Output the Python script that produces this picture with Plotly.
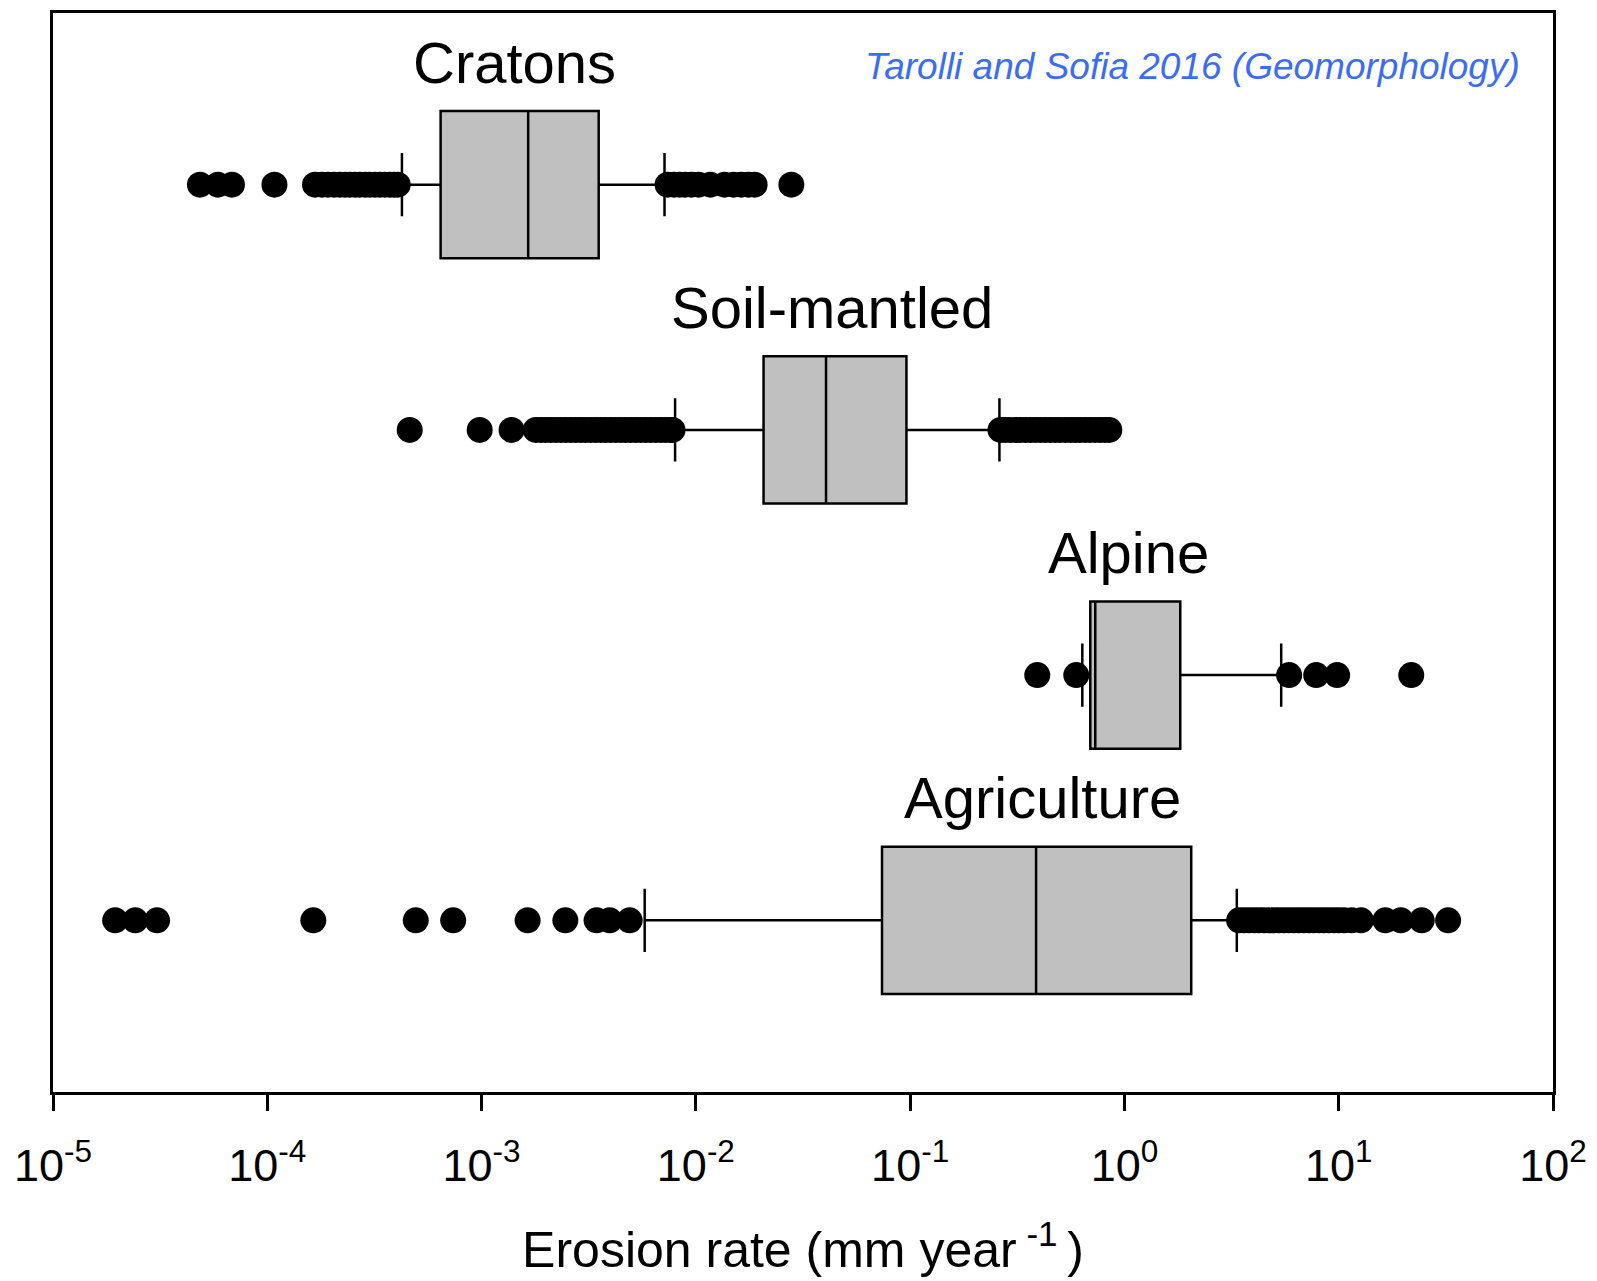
import numpy as np
import plotly.graph_objects as go

# Erosion-rate summary statistics per landscape type (mm / year)
categories = ["Cratons", "Soil-mantled", "Alpine", "Agriculture"]
row_pos = [3, 2, 1, 0]

q1 = [6.44e-4, 2.07e-2, 0.693, 0.0739]
median = [1.65e-3, 4.05e-2, 0.731, 0.387]
q3 = [3.52e-3, 9.61e-2, 1.822, 2.05]
lower_whisker = [4.25e-4, 8.0e-3, 0.636, 5.77e-3]
upper_whisker = [7.14e-3, 0.261, 5.39, 3.345]

# Points beyond the whiskers
outliers_cratons = [4.85e-5, 5.88e-5, 6.84e-5, 1.08e-4,
                    1.67e-4, 1.80e-4, 1.92e-4, 2.05e-4, 2.18e-4, 2.31e-4, 2.43e-4,
                    2.57e-4, 2.70e-4, 2.86e-4, 3.01e-4, 3.18e-4, 3.35e-4, 3.54e-4,
                    3.73e-4, 3.90e-4, 4.06e-4,
                    7.38e-3, 7.9e-3, 8.4e-3, 8.9e-3, 9.55e-3, 1.03e-2, 1.17e-2,
                    1.36e-2, 1.50e-2, 1.63e-2, 1.76e-2, 1.88e-2, 2.79e-2]
outliers_soil = [4.62e-4, 9.8e-4, 1.38e-3,
                 1.79e-3, 1.89e-3, 1.99e-3, 2.10e-3, 2.22e-3, 2.34e-3, 2.47e-3, 2.61e-3,
                 2.75e-3, 2.90e-3, 3.06e-3, 3.23e-3, 3.41e-3, 3.60e-3, 3.79e-3, 4.00e-3,
                 4.22e-3, 4.46e-3, 4.70e-3, 4.96e-3, 5.24e-3, 5.52e-3, 5.83e-3, 6.15e-3,
                 6.49e-3, 6.85e-3, 7.22e-3, 7.60e-3, 7.78e-3,
                 0.264, 0.278, 0.293, 0.31, 0.327, 0.345, 0.364, 0.384, 0.405, 0.427,
                 0.45, 0.475, 0.50, 0.53, 0.56, 0.59, 0.62, 0.655, 0.69, 0.73, 0.77,
                 0.81, 0.85]
outliers_alpine = [0.392, 0.596, 5.87, 7.85, 9.83, 21.8]
outliers_agriculture = [1.95e-5, 2.42e-5, 3.06e-5, 1.64e-4, 4.93e-4, 7.37e-4, 1.64e-3,
                        2.46e-3, 3.44e-3, 3.96e-3, 4.91e-3,
                        3.43, 3.62, 3.82, 4.03, 4.25, 4.48, 4.73, 4.99, 5.26, 5.55,
                        5.86, 6.18, 6.52, 6.88, 7.26, 7.66, 8.08, 8.52, 8.99, 9.5,
                        10.0, 10.6, 11.5, 12.7, 16.5, 19.5, 24.4, 32.4]
outliers = [outliers_cratons, outliers_soil, outliers_alpine, outliers_agriculture]

# Where each category name sits along the x axis
label_x = [1.43e-3, 0.0432, 1.04, 0.414]

tick_vals = [1e-5, 1e-4, 1e-3, 1e-2, 1e-1, 1e0, 1e1, 1e2]
tick_text = ["10<sup>-5</sup>", "10<sup>-4</sup>", "10<sup>-3</sup>", "10<sup>-2</sup>",
             "10<sup>-1</sup>", "10<sup>0</sup>", "10<sup>1</sup>", "10<sup>2</sup>"]

FONT = "Liberation Sans, Arial, sans-serif"
BOX_W = 0.6

fig = go.Figure()

for i, name in enumerate(categories):
    fig.add_trace(go.Box(
        y=[row_pos[i]],
        q1=[q1[i]], median=[median[i]], q3=[q3[i]],
        lowerfence=[lower_whisker[i]], upperfence=[upper_whisker[i]],
        orientation="h",
        width=BOX_W,
        whiskerwidth=0.43,
        fillcolor="#C0C0C0",
        line=dict(color="black", width=2.5),
        boxpoints=False,
        name=name,
        showlegend=False,
    ))
    fig.add_trace(go.Scatter(
        x=outliers[i],
        y=[row_pos[i]] * len(outliers[i]),
        mode="markers",
        marker=dict(color="black", size=26, line=dict(width=0)),
        showlegend=False,
        hoverinfo="x",
    ))
    fig.add_annotation(
        x=np.log10(label_x[i]), y=row_pos[i] + BOX_W / 2 + 0.2,
        xref="x", yref="y",
        text=name, showarrow=False,
        font=dict(family=FONT, size=58, color="black"),
        xanchor="center", yanchor="middle",
    )

fig.add_annotation(
    x=0.979, y=0.950, xref="paper", yref="paper",
    text="<i>Tarolli and Sofia 2016 (Geomorphology)</i>",
    showarrow=False, xanchor="right", yanchor="middle",
    font=dict(family=FONT, size=37, color="#3b6cf7"),
)

fig.update_layout(
    width=1597, height=1281,
    margin=dict(l=53, r=43, t=10, b=189),
    paper_bgcolor="white", plot_bgcolor="white",
    font=dict(family=FONT, color="black"),
    xaxis=dict(
        type="log", range=[-5, 2],
        tickvals=tick_vals, ticktext=tick_text,
        ticks="outside", ticklen=16, tickwidth=2.5, tickcolor="black",
        tickfont=dict(family=FONT, size=45, color="black"),
        ticklabelstandoff=16,
        showline=True, linecolor="black", linewidth=2.5, mirror=True,
        showgrid=False, zeroline=False,
        title=dict(text="Erosion rate (mm year<sup> -1 </sup>)",
                   font=dict(family=FONT, size=50, color="black"), standoff=43),
    ),
    yaxis=dict(
        range=[-0.7, 3.7],
        showticklabels=False, ticks="",
        showline=True, linecolor="black", linewidth=2.5, mirror=True,
        showgrid=False, zeroline=False,
    ),
)

fig.write_html("out.html")
